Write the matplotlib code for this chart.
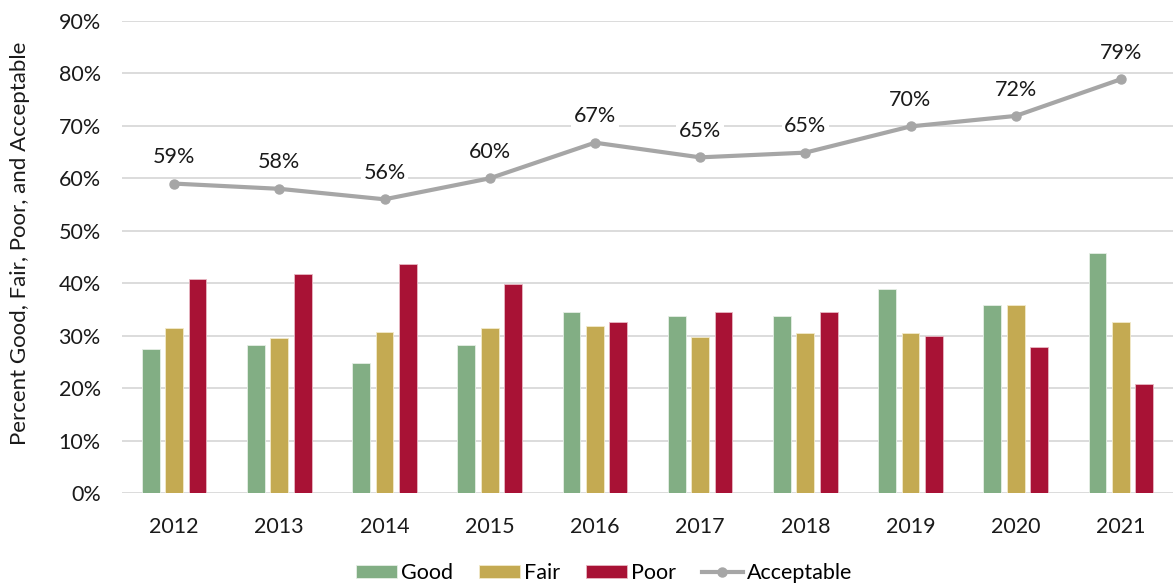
import matplotlib
matplotlib.use("Agg")
import matplotlib.pyplot as plt
import numpy as np
from matplotlib.ticker import FuncFormatter

years = ["2012", "2013", "2014", "2015", "2016", "2017", "2018", "2019", "2020", "2021"]
good = [27.5, 28.2, 24.8, 28.2, 34.6, 33.8, 33.8, 38.9, 35.8, 45.7]
fair = [31.4, 29.5, 30.7, 31.4, 31.8, 29.8, 30.6, 30.6, 35.8, 32.6]
poor = [40.9, 41.7, 43.7, 39.8, 32.6, 34.6, 34.6, 29.9, 27.9, 20.8]
acceptable = [59.0, 58.0, 56.0, 60.0, 66.8, 64.0, 64.9, 69.9, 71.9, 78.9]
acceptable_labels = ["59%", "58%", "56%", "60%", "67%", "65%", "65%", "70%", "72%", "79%"]

plt.rcParams['font.family'] = ['Lato', 'DejaVu Sans']

fig = plt.figure(figsize=(11.73, 5.84), dpi=100)
ax = fig.add_axes([121.5/1173, 1 - 493/584, 1052/1173, 472/584])

x = np.arange(len(years))
w = 0.17
off = 0.222
c_good, c_fair, c_poor, c_line = "#82AE84", "#C4AA52", "#A81235", "#A6A6A6"
hg = ax.bar(x - off, good, w, color=c_good, edgecolor="#E6EFE6", linewidth=0.6, label="Good", zorder=3)
hf = ax.bar(x, fair, w, color=c_fair, edgecolor="#F2EACB", linewidth=0.6, label="Fair", zorder=3)
hp = ax.bar(x + off, poor, w, color=c_poor, edgecolor="#E8B8C4", linewidth=0.6, label="Poor", zorder=3)
hl, = ax.plot(x, acceptable, color=c_line, linewidth=3, marker="o", markersize=6.5,
              label="Acceptable", zorder=4)
for xi, yi, lab in zip(x, acceptable, acceptable_labels):
    ax.annotate(lab, (xi, yi), xytext=(0, 19), textcoords="offset points",
                ha="center", va="center", fontsize=15.5, color="#1a1a1a",
                bbox=dict(boxstyle="square,pad=0.12", fc="white", ec="none"), zorder=5)

ax.set_xlim(-0.5, len(years) - 0.5)
ax.set_ylim(0, 90)
ax.set_yticks(np.arange(0, 91, 10))
ax.yaxis.set_major_formatter(FuncFormatter(lambda v, p: f"{int(v)}%"))
ax.set_xticks(x)
ax.set_xticklabels(years)
ax.tick_params(axis="both", length=0, labelsize=15.5, colors="#1a1a1a")
ax.tick_params(axis="x", pad=17)
ax.tick_params(axis="y", pad=15)
ax.grid(axis="y", color="#D9D9D9", linewidth=1.3, zorder=0)
ax.set_axisbelow(True)
for s in ax.spines.values():
    s.set_visible(False)
fig.text(20/1173, 1 - 243.5/584, "Percent Good, Fair, Poor, and Acceptable", rotation=90,
         ha="center", va="center", fontsize=16, color="#1a1a1a")

leg = ax.legend([hg, hf, hp, hl], ["Good", "Fair", "Poor", "Acceptable"],
                loc="center", bbox_to_anchor=(0.4587, -0.17), ncol=4, frameon=False,
                fontsize=15.5, handlelength=1.9, handleheight=0.6, columnspacing=1.2,
                handletextpad=0.2)

fig.savefig("out.png", dpi=100)
